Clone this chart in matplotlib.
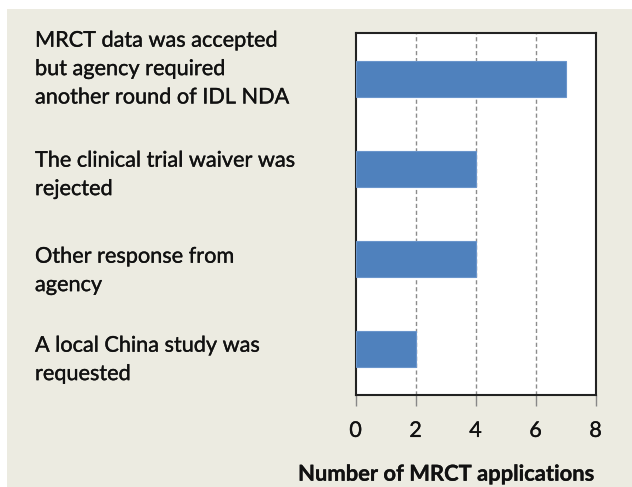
import matplotlib
matplotlib.use("Agg")
import matplotlib.pyplot as plt
from matplotlib.patches import Rectangle
import matplotlib.patheffects as pe

categories = [
    "MRCT data was accepted\nbut agency required\nanother round of IDL NDA",
    "The clinical trial waiver was\nrejected",
    "Other response from\nagency",
    "A local China study was\nrequested",
]
values = [7, 4, 4, 2]
xticks = [0, 2, 4, 6, 8]
xlabel = "Number of MRCT applications"

W, H = 632, 487
fig = plt.figure(figsize=(W / 100, H / 100), dpi=100, facecolor="white")
plt.rcParams['font.family'] = ['Lato', 'DejaVu Sans']
thick = [pe.withStroke(linewidth=0.25, foreground="#111111")]
bold = [pe.withStroke(linewidth=0.2, foreground="#111111")]

bg = "#ECEBE1"
fig.patches.append(Rectangle((7 / W, 0), 1 - 7 / W, 1 - 9 / H, transform=fig.transFigure,
                             facecolor=bg, edgecolor="none", zorder=-10))

left, right, top, bottom = 355.5, 595.5, 33.5, 394.5
ax = fig.add_axes([left / W, 1 - bottom / H, (right - left) / W, (bottom - top) / H])
ax.set_facecolor("white")

ypos = list(range(len(categories)))
ax.barh(ypos, values, height=0.4, color="#4F81BD", edgecolor="#6A95CC", linewidth=0.8, zorder=3)
ax.set_ylim(len(categories) - 0.5, -0.5)
ax.set_xlim(0, 8)
ax.set_xticks(xticks)
ax.set_xticklabels([str(t) for t in xticks], fontsize=15.5, color="#111111")
for lbl in ax.get_xticklabels():
    lbl.set_path_effects(thick)
ax.set_yticks([])
ax.tick_params(axis="x", direction="out", length=8, width=1, color="#888888", pad=11)
for t in [2, 4, 6]:
    ax.axvline(t, color="#8c8c8c", linestyle=(0, (3, 2)), linewidth=1, zorder=1)
for s in ax.spines.values():
    s.set_color("#222222")
    s.set_linewidth(1.5)

# first-line baselines of the label text boxes (pixels from top) and line step
first_baselines = [46.7, 166.7, 262.7, 351.7]
line_step = 28.4
for base, c in zip(first_baselines, categories):
    for i, line in enumerate(c.split("\n")):
        fig.text(35 / W, 1 - (base + i * line_step) / H, line, ha="left", va="baseline",
                 fontsize=15.6, color="#111111", path_effects=thick)

fig.text(446.5 / W, 1 - 480.7 / H, xlabel, ha="center", va="baseline",
         fontsize=15.8, fontweight="bold", color="#111111", path_effects=bold)

fig.savefig("out.png", dpi=100, facecolor=fig.get_facecolor())
